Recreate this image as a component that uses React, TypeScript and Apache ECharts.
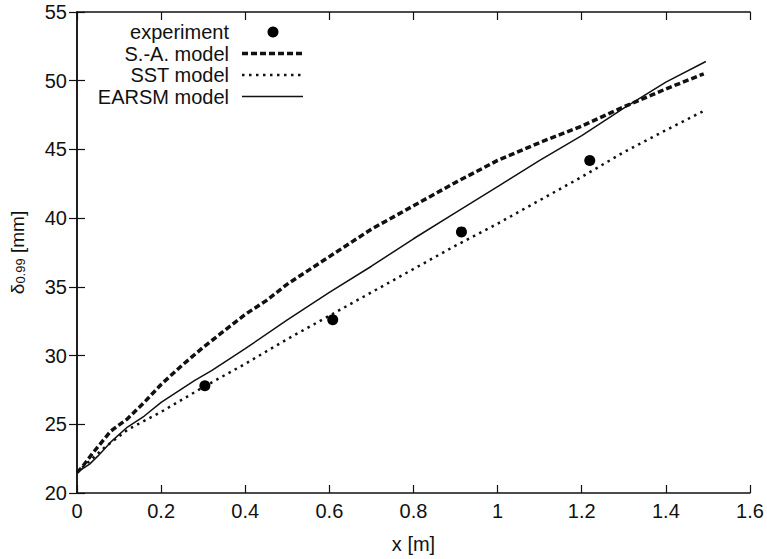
import React, { useEffect, useRef } from "react";
import * as echarts from "echarts";

const xTicks = { min: 0, max: 1.6, interval: 0.2 };
const yTicks = { min: 20, max: 55, interval: 5 };

const expX = [0.304, 0.608, 0.914, 1.219];
const expY = [27.8, 32.6, 39.0, 44.2];

const saX = [0, 0.01, 0.04, 0.08, 0.12, 0.16, 0.2, 0.25, 0.3, 0.35, 0.4, 0.45, 0.5, 0.6, 0.7, 0.8, 0.9, 1.0, 1.1, 1.2, 1.3, 1.4, 1.49];
const saY = [21.5, 21.8, 23.0, 24.5, 25.4, 26.6, 27.9, 29.3, 30.6, 31.8, 33.0, 34.0, 35.2, 37.2, 39.2, 40.9, 42.6, 44.2, 45.5, 46.7, 48.1, 49.4, 50.5];

const sstX = [0, 0.065, 0.12, 0.2, 0.3, 0.4, 0.5, 0.6, 0.7, 0.8, 0.9, 1.0, 1.1, 1.2, 1.3, 1.4, 1.49];
const sstY = [21.5, 23.3, 24.6, 25.9, 27.7, 29.4, 31.2, 32.9, 34.6, 36.3, 38.0, 39.6, 41.3, 43.0, 44.8, 46.4, 47.8];

const earsmX = [0, 0.03, 0.05, 0.08, 0.12, 0.16, 0.2, 0.24, 0.28, 0.32, 0.35, 0.4, 0.5, 0.6, 0.7, 0.8, 0.9, 1.0, 1.1, 1.2, 1.3, 1.4, 1.495];
const earsmY = [21.5, 22.1, 22.7, 23.7, 24.8, 25.6, 26.6, 27.4, 28.2, 28.9, 29.5, 30.5, 32.6, 34.6, 36.5, 38.5, 40.4, 42.3, 44.2, 46.0, 48.0, 49.9, 51.4];

const legendNames = ["experiment", "S.-A. model", "SST model", "EARSM model"];

const pairs = (xs: number[], ys: number[]) => xs.map((x, i) => [x, ys[i]]);

const FONT = "Liberation Sans, Arial, sans-serif";
const FS = 20;
const INK = "#111";

export default function App() {
  const ref = useRef<HTMLDivElement>(null);
  useEffect(() => {
    if (!ref.current) return;
    const chart = echarts.init(ref.current, undefined, { renderer: "svg" });
    const axisCommon = {
      axisLine: { show: true, lineStyle: { color: INK, width: 1.5 } },
      axisTick: { show: true, inside: true, length: 8, lineStyle: { color: INK, width: 1.2 } },
      splitLine: { show: false },
    };
    const legY = [32, 53.5, 75, 96.5];
    const textX = 229;
    const sampleX1 = 242;
    const sampleX2 = 303;
    const legend: any[] = legendNames.map((n, i) => ({
      type: "text",
      x: textX,
      y: legY[i],
      z: 100,
      style: {
        text: n,
        align: "right",
        verticalAlign: "middle",
        fill: INK,
        font: `${FS}px ${FONT}`,
      },
    }));
    legend.push(
      { type: "circle", z: 100, shape: { cx: 273, cy: legY[0], r: 5.5 }, style: { fill: "#000" } },
      {
        type: "line",
        z: 100,
        shape: { x1: sampleX1, y1: legY[1], x2: sampleX2, y2: legY[1] },
        style: { stroke: INK, lineWidth: 3.5, lineDash: [6, 3], lineCap: "butt" },
      },
      {
        type: "line",
        z: 100,
        shape: { x1: sampleX1, y1: legY[2], x2: sampleX2, y2: legY[2] },
        style: { stroke: INK, lineWidth: 2.5, lineDash: [2.5, 4.5], lineCap: "butt" },
      },
      {
        type: "line",
        z: 100,
        shape: { x1: sampleX1, y1: legY[3], x2: sampleX2, y2: legY[3] },
        style: { stroke: INK, lineWidth: 1.5 },
      }
    );

    chart.setOption({
      animation: false,
      backgroundColor: "#fff",
      textStyle: { fontFamily: FONT },
      grid: { left: 76, right: 17, top: 12, bottom: 65, containLabel: false },
      xAxis: [
        {
          type: "value",
          position: "bottom",
          ...xTicks,
          ...axisCommon,
          axisLabel: { show: true, color: INK, fontSize: FS, margin: 8, fontFamily: FONT },
          name: "x [m]",
          nameLocation: "middle",
          nameGap: 41,
          nameTextStyle: { color: INK, fontSize: FS, fontFamily: FONT },
        },
        {
          type: "value",
          position: "top",
          ...xTicks,
          ...axisCommon,
          axisLabel: { show: false },
        },
      ],
      yAxis: [
        {
          type: "value",
          position: "left",
          ...yTicks,
          ...axisCommon,
          axisLabel: { show: true, color: INK, fontSize: FS, margin: 10, fontFamily: FONT },
          name: "{d|δ}{s|0.99}{d| [mm]}",
          nameLocation: "middle",
          nameGap: 50,
          nameTextStyle: {
            color: INK,
            fontFamily: FONT,
            rich: {
              d: { fontSize: 19, lineHeight: 20, verticalAlign: "bottom", color: INK, fontFamily: FONT },
              s: { fontSize: 13, lineHeight: 6, verticalAlign: "bottom", color: INK, fontFamily: FONT },
            },
          },
        },
        {
          type: "value",
          position: "right",
          ...yTicks,
          ...axisCommon,
          axisLabel: { show: false },
        },
      ],
      series: [
        {
          name: legendNames[1],
          type: "line",
          data: pairs(saX, saY),
          showSymbol: false,
          symbol: "none",
          lineStyle: { color: INK, width: 3.5, type: [6, 3], cap: "butt" },
          z: 2,
        },
        {
          name: legendNames[2],
          type: "line",
          data: pairs(sstX, sstY),
          showSymbol: false,
          symbol: "none",
          lineStyle: { color: INK, width: 2.5, type: [2.5, 4.5], cap: "butt" },
          z: 2,
        },
        {
          name: legendNames[3],
          type: "line",
          data: pairs(earsmX, earsmY),
          showSymbol: false,
          symbol: "none",
          lineStyle: { color: INK, width: 1.5 },
          z: 2,
        },
        {
          name: legendNames[0],
          type: "scatter",
          data: pairs(expX, expY),
          symbol: "circle",
          symbolSize: 11,
          itemStyle: { color: "#000", opacity: 1 },
          z: 5,
        },
      ],
      graphic: legend,
    });
    return () => chart.dispose();
  }, []);
  return (
    <div
      ref={ref}
      style={{ position: "fixed", left: 0, top: 0, width: 767, height: 559, background: "#fff" }}
    />
  );
}
